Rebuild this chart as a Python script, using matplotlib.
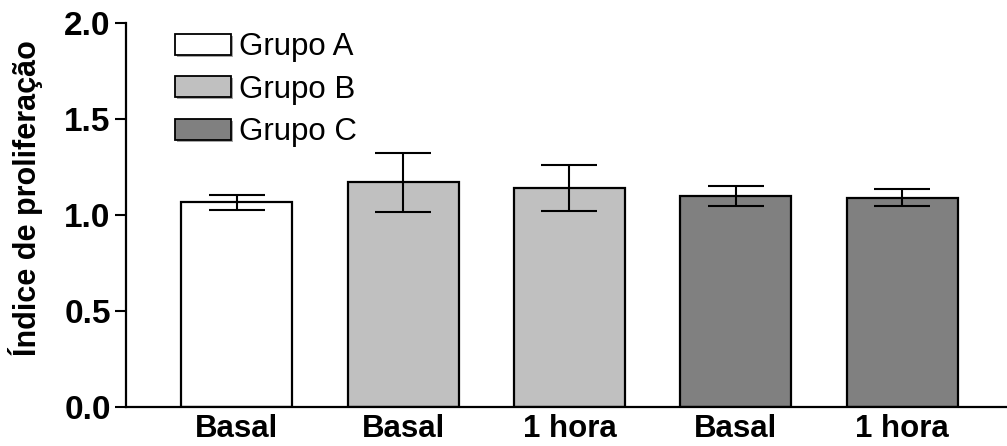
import matplotlib
matplotlib.use('Agg')
import matplotlib.pyplot as plt
import matplotlib.patheffects as pe
from matplotlib.patches import Patch

# ── Data ──────────────────────────────────────────────────────────────────────
labels = ['Basal', 'Basal', '1 hora', 'Basal', '1 hora']
groups = ['Grupo A', 'Grupo B', 'Grupo B', 'Grupo C', 'Grupo C']
means  = [1.066, 1.170, 1.142, 1.101, 1.090]
errors = [0.038, 0.152, 0.121, 0.052, 0.044]

group_names  = ['Grupo A', 'Grupo B', 'Grupo C']
group_colors = {'Grupo A': '#ffffff', 'Grupo B': '#c0c0c0', 'Grupo C': '#808080'}

plt.rcParams['font.family'] = ['Liberation Sans', 'DejaVu Sans']

# ── Figure ────────────────────────────────────────────────────────────────────
fig = plt.figure(figsize=(10.07, 4.46), dpi=100)
ax = fig.add_axes([126 / 1007, 39 / 446, 881 / 1007, 384 / 446])

x = list(range(len(labels)))
colors = [group_colors[g] for g in groups]

ax.bar(x, means, width=0.667, color=colors, edgecolor='black',
       linewidth=1.6, zorder=2)
ax.errorbar(x, means, yerr=errors, fmt='none', ecolor='black',
            elinewidth=1.5, capsize=20.5, capthick=1.5, zorder=3)

ax.set_xlim(-0.666, 4.63)
ax.set_ylim(0, 2.0)
ax.set_yticks([0.0, 0.5, 1.0, 1.5, 2.0])
ax.set_yticklabels(['0.0', '0.5', '1.0', '1.5', '2.0'])
ax.set_xticks(x)
ax.set_xticklabels(labels)

for side in ['top', 'right']:
    ax.spines[side].set_visible(False)
for side in ['left', 'bottom']:
    ax.spines[side].set_linewidth(1.6)

ax.tick_params(axis='y', direction='out', length=8, width=1.5, pad=3,
               labelsize=24)
ax.tick_params(axis='x', length=0, pad=5, labelsize=22.5)
for lbl in ax.get_xticklabels() + ax.get_yticklabels():
    lbl.set_fontweight('bold')

ax.set_ylabel('Índice de proliferação', fontsize=22, fontweight='bold')
ax.yaxis.set_label_coords(-0.094, 0.544)

# ── Legend ────────────────────────────────────────────────────────────────────
shadow = [pe.SimplePatchShadow(offset=(1.5, -1.5), shadow_rgbFace='gray',
                               alpha=0.7), pe.Normal()]
handles = [Patch(facecolor=group_colors[g], edgecolor='black', linewidth=1.3,
                 path_effects=shadow, label=g) for g in group_names]
ax.legend(handles=handles, loc='upper left', bbox_to_anchor=(0.0556, 0.976),
          frameon=False, fontsize=22.5, handlelength=1.8, handleheight=0.65,
          handletextpad=0.25, labelspacing=0.4, borderaxespad=0, borderpad=0)

fig.savefig('out.png', dpi=100)
